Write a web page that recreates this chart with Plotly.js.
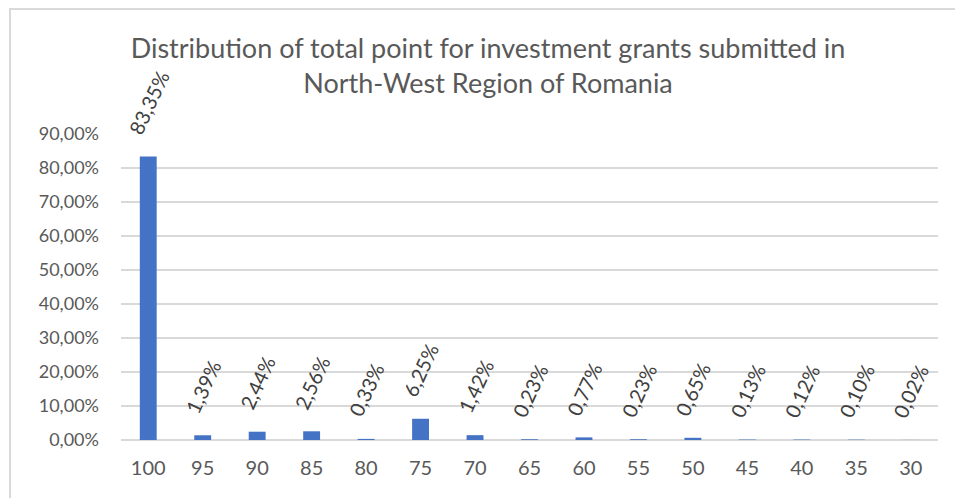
<!DOCTYPE html>
<html>
<head>
<meta charset="utf-8">
<script src="https://cdn.plot.ly/plotly-3.0.1.min.js"></script>
<style>
  html, body { margin: 0; padding: 0; background: #ffffff; }
  #chart { width: 955px; height: 498px; }
</style>
</head>
<body>
<div id="chart"></div>
<script>
// ---- data ----
const categories = ["100", "95", "90", "85", "80", "75", "70", "65", "60", "55", "50", "45", "40", "35", "30"];
const shares = [0.8335, 0.0139, 0.0244, 0.0256, 0.0033, 0.0625, 0.0142, 0.0023, 0.0077, 0.0023, 0.0065, 0.0013, 0.0012, 0.0010, 0.0002];
const yTickValues = [0, 0.1, 0.2, 0.3, 0.4, 0.5, 0.6, 0.7, 0.8, 0.9];
const titleText = "Distribution of total point for investment grants submitted in<br>North-West Region of Romania";

const FONT = "Lato, 'Open Sans', sans-serif";
const TXT = "#595959";

function pctLabel(v) {
  return (v * 100).toFixed(2).replace('.', ',') + '%';
}

const trace = {
  type: 'bar',
  x: categories,
  y: shares,
  marker: { color: '#4472C4' },
  hoverinfo: 'x+y'
};

// on a category axis, annotation x is the category's serial index
const annotations = categories.map((c, i) => ({
  x: i,
  y: shares[i],
  xref: 'x',
  yref: 'y',
  text: pctLabel(shares[i]),
  showarrow: false,
  textangle: -65,
  xanchor: 'center',
  yanchor: 'bottom',
  yshift: 16,
  font: { family: FONT, size: 20, color: '#404040' }
}));

const layout = {
  width: 955,
  height: 498,
  margin: { l: 121, r: 17, t: 134, b: 58 },
  paper_bgcolor: '#ffffff',
  plot_bgcolor: '#ffffff',
  separators: ',.',
  showlegend: false,
  bargap: 0.69,
  font: { family: FONT, color: TXT, size: 20 },
  title: {
    text: titleText,
    x: 488 / 955,
    xref: 'container',
    xanchor: 'center',
    y: 1 - 58 / 498,
    yref: 'container',
    yanchor: 'middle',
    font: { family: FONT, size: 27, color: TXT }
  },
  xaxis: {
    type: 'category',
    categoryorder: 'array',
    categoryarray: categories,
    range: [-0.5, categories.length - 0.5],
    showgrid: false,
    showline: false,
    zeroline: false,
    ticks: '',
    ticklabelstandoff: 14,
    tickfont: { family: FONT, size: 20, color: TXT }
  },
  yaxis: {
    range: [0, 0.9],
    tickvals: yTickValues,
    tickformat: '.2%',
    showgrid: true,
    gridcolor: '#D9D9D9',
    gridwidth: 1.5,
    zeroline: true,
    zerolinecolor: '#D9D9D9',
    zerolinewidth: 1.5,
    showline: false,
    ticks: '',
    ticklabelstandoff: 21,
    tickfont: { family: FONT, size: 18, color: TXT }
  },
  annotations: annotations,
  shapes: [{
    type: 'rect',
    xref: 'paper',
    yref: 'paper',
    x0: (10 - 121) / 817,
    x1: (965 - 121) / 817,
    y0: (440 - 510) / 306,
    y1: (440 - 9) / 306,
    line: { color: '#D9D9D9', width: 2 },
    fillcolor: 'rgba(0,0,0,0)',
    layer: 'below'
  }]
};

Plotly.newPlot('chart', [trace], layout, { displayModeBar: false, staticPlot: true });
</script>
</body>
</html>
